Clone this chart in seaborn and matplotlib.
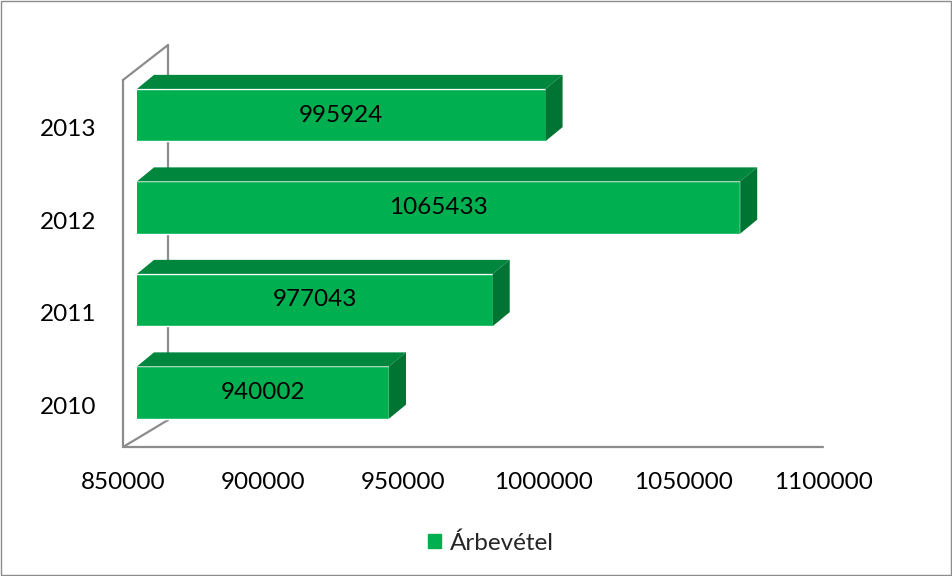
import numpy as np
import pandas as pd
import matplotlib.pyplot as plt
import seaborn as sns
from matplotlib.patches import Polygon, Rectangle, Patch
from matplotlib.lines import Line2D

# data
years = ['2013', '2012', '2011', '2010']
revenue = [995924, 1065433, 977043, 940002]
x_ticks = [850000, 900000, 950000, 1000000, 1050000, 1100000]
series_name = 'Árbevétel'

front_col = '#00B050'
top_col = '#00873D'
side_col = '#007432'
wall_col = '#8C8C8C'

sns.set_theme(style='white')
plt.rcParams['font.family'] = ['Lato', 'DejaVu Sans']

W, H = 952, 576
fig = plt.figure(figsize=(W / 100, H / 100), dpi=100)

def fx(x):
    return x / W

def fy(y):
    return 1 - y / H

# bars sit a little behind the front plane
ax = fig.add_axes([137 / W, 1 - 438.75 / H, 700 / W, 370 / H])
df = pd.DataFrame({'year': years, 'value': revenue})
sns.barplot(data=df, x='value', y='year', order=years, orient='h',
            color=front_col, saturation=1, width=0.565, ax=ax)
ax.set_xlim(x_ticks[0], x_ticks[-1])
ax.set_ylim(3.5, -0.5)
ax.set_xlabel('')
ax.set_ylabel('')
ax.set_xticks([])
ax.set_yticks([])
for s in ax.spines.values():
    s.set_visible(False)
ax.grid(False)

# front plane axes only carries the tick labels
ax_front = fig.add_axes([123 / W, 1 - 451.25 / H, 700 / W, 369.5 / H])
ax_front.patch.set_visible(False)
for s in ax_front.spines.values():
    s.set_visible(False)
ax_front.set_xlim(x_ticks[0], x_ticks[-1])
ax_front.set_ylim(len(years) - 0.5, -0.5)
ax_front.set_xticks(x_ticks, labels=[str(t) for t in x_ticks])
ax_front.set_yticks(range(len(years)), labels=years)
ax_front.tick_params(axis='both', length=0, labelsize=17.5, labelcolor='black')
ax_front.tick_params(axis='x', pad=15)
ax_front.tick_params(axis='y', pad=19)
ax_front.grid(False)

# data units per pixel
px_x = (x_ticks[-1] - x_ticks[0]) / 700
px_y = 4 / 370

# 3d look: top and side faces + value labels
ddx, ddy = 17 * px_x, 14 * px_y
for p, v in zip(ax.patches, revenue):
    x0 = max(p.get_x(), x_ticks[0])
    x1 = p.get_x() + p.get_width()
    yt = p.get_y()
    yb = p.get_y() + p.get_height()
    ax.add_patch(Polygon([(x0, yt), (x1, yt), (x1 + ddx, yt - ddy), (x0 + ddx, yt - ddy)],
                         closed=True, facecolor=top_col, edgecolor='none', clip_on=False))
    ax.add_patch(Polygon([(x1, yt), (x1 + ddx, yt - ddy), (x1 + ddx, yb - ddy), (x1, yb)],
                         closed=True, facecolor=side_col, edgecolor='none', clip_on=False))
    ax.text((x0 + x1) / 2, (yt + yb) / 2, str(v), ha='center', va='center',
            fontsize=17.5, color='black')

# walls and floor outline, behind the bars
walls = [
    [(123, 447), (823, 447)],
    [(123, 447), (168, 420)],
    [(123, 447), (123, 80)],
    [(123, 80), (168, 45)],
    [(168, 45), (168, 420)],
]
for seg in walls:
    xs = [fx(a) for a, b in seg]
    ys = [fy(b) for a, b in seg]
    ax.add_line(Line2D(xs, ys, color=wall_col, lw=1.6, transform=fig.transFigure,
                       clip_on=False, zorder=0.5))

fig.legend(handles=[Patch(color=front_col, label=series_name)], loc='center',
           bbox_to_anchor=(fx(491), fy(543)), frameon=False, fontsize=17.5,
           handlelength=0.55, handleheight=0.55, handletextpad=0.35)

fig.add_artist(Rectangle((0.0008, 0.001), 0.9984, 0.997, transform=fig.transFigure,
                         fill=False, edgecolor='#8C8C8C', lw=1))

fig.savefig('out.png', dpi=100)
